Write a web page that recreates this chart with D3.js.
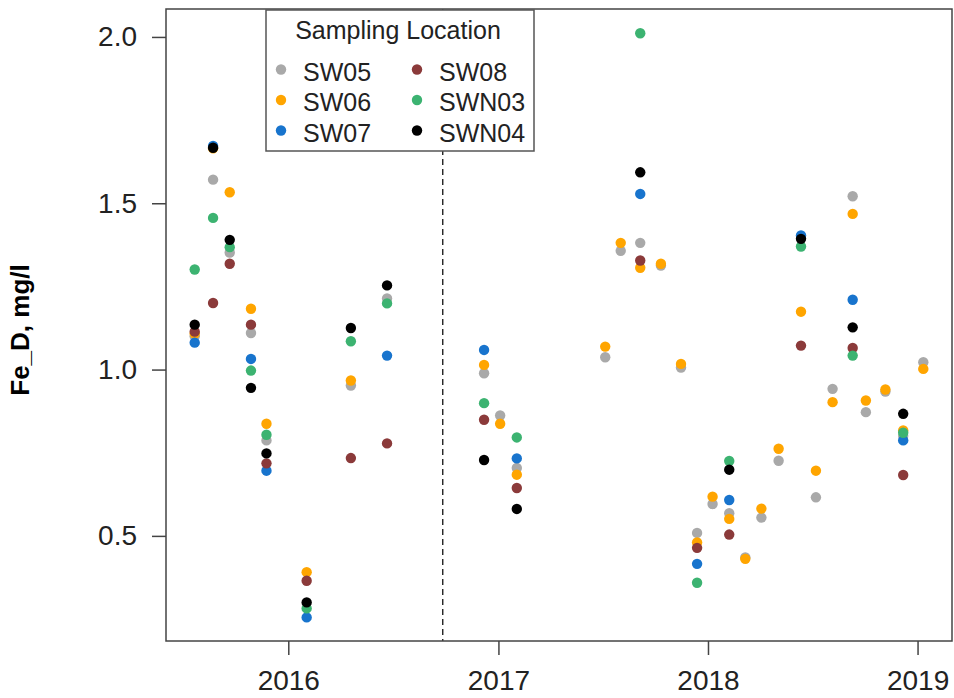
<!DOCTYPE html>
<meta charset="utf-8">
<html>
<head>
    <script src="https://d3js.org/d3.v7.min.js"></script>
</head>
<style>
    body { margin: 0; background: white; }
    text { font-family: "Liberation Sans", Arial, sans-serif; fill: #222; }
</style>
<body>
<div id="chartsdiv"></div>
<script>

// sampling dates (one column of points per date)
var sampleDates = ["2015-07-22", "2015-08-23", "2015-09-21", "2015-10-28", "2015-11-24",
    "2016-02-02", "2016-04-19", "2016-06-21", "2016-12-07", "2017-01-04",
    "2017-02-02", "2017-07-06", "2017-08-02", "2017-09-05", "2017-10-11",
    "2017-11-15", "2017-12-13", "2018-01-09", "2018-02-07", "2018-03-07",
    "2018-04-04", "2018-05-04", "2018-06-12", "2018-07-08", "2018-08-06",
    "2018-09-10", "2018-10-03", "2018-11-06", "2018-12-07", "2019-01-11"];

// Fe_D (mg/l) per site, null = no sample
var sw05 = [1.10, 1.571, 1.352, 1.110, 0.787, null, 0.952, 1.214, 0.989, 0.862,
    0.704, 1.037, 1.357, 1.381, 1.313, 1.006, 0.509, 0.596, 0.568, 0.435,
    0.555, 0.726, null, 0.616, 0.942, 1.521, 0.872, 0.934, 0.80, 1.022];
var sw06 = [1.108, 1.665, 1.533, 1.183, 0.837, 0.391, 0.967, null, 1.014, 0.837,
    0.684, 1.069, 1.381, 1.306, 1.318, 1.017, 0.48, 0.618, 0.551, 0.431,
    0.582, 0.762, 1.174, 0.696, 0.902, 1.468, 0.907, 0.94, 0.817, 1.002];
var sw07 = [1.081, 1.672, null, 1.032, 0.696, 0.255, null, 1.042, 1.059, null,
    0.733, null, null, 1.528, null, null, 0.416, null, 0.608, null,
    null, null, 1.403, null, null, 1.21, null, null, 0.787, null];
var sw08 = [1.114, 1.20, 1.318, 1.135, 0.718, 0.365, 0.734, 0.778, 0.849, null,
    0.644, null, null, 1.328, null, null, 0.464, null, 0.504, null,
    null, null, 1.072, null, null, 1.065, null, null, 0.683, null];
var swn03 = [1.301, 1.456, 1.368, 0.997, 0.804, 0.282, 1.085, 1.199, 0.899, null,
    0.796, null, null, 2.011, null, null, 0.359, null, 0.725, null,
    null, null, 1.37, null, null, 1.042, null, null, 0.81, null];
var swn04 = [1.135, 1.667, 1.39, 0.945, 0.748, 0.30, 1.125, 1.253, 0.728, null,
    0.581, null, null, 1.593, null, null, null, null, 0.699, null,
    null, null, 1.393, null, null, 1.127, null, null, 0.867, null];

var siteNames = ["SW05", "SW06", "SW07", "SW08", "SWN03", "SWN04"];
var siteValues = [sw05, sw06, sw07, sw08, swn03, swn04];
var siteColors = ["#A9A9A9", "#FFA500", "#1874CD", "#8B3A3A", "#3CB371", "#000000"];

var yTicks = [0.5, 1.0, 1.5, 2.0];
var yearTicks = ["2016-01-01", "2017-01-01", "2018-01-01", "2019-01-01"];
var splitDate = "2016-09-26";   // dashed reference line

// layout
var width = 954, height = 698;
var plot = {left: 166, right: 952, top: 9, bottom: 641};

var parse = d3.utcParse("%Y-%m-%d");

var svg = d3.select("#chartsdiv")
    .append("svg")
        .attr("width", width)
        .attr("height", height);

var scaleX = d3.scaleUtc()
    .domain([parse("2015-06-02"), parse("2019-03-02")])
    .range([plot.left, plot.right]);

var scaleY = d3.scaleLinear()
    .domain([0.184, 2.084])
    .range([plot.bottom, plot.top]);

// flatten into point records
var points = [];
siteNames.forEach(function(name, i) {
    siteValues[i].forEach(function(v, j) {
        if (v !== null) points.push({site: name, color: siteColors[i], date: parse(sampleDates[j]), value: v});
    });
});

// dashed vertical line
svg.append("line")
    .attr("x1", scaleX(parse(splitDate)))
    .attr("x2", scaleX(parse(splitDate)))
    .attr("y1", plot.top)
    .attr("y2", plot.bottom)
    .style("stroke", "#222")
    .style("stroke-width", 1.4)
    .style("stroke-dasharray", "6,4");

// points
svg.selectAll("circle.pt")
    .data(points)
    .enter()
    .append("circle")
    .attr("class", "pt")
    .attr("cx", function(d) { return scaleX(d.date); })
    .attr("cy", function(d) { return scaleY(d.value); })
    .attr("r", 5.2)
    .style("fill", function(d) { return d.color; });

// axes
var axisX = svg.append("g")
    .attr("transform", "translate(0," + plot.bottom + ")")
    .call(d3.axisBottom(scaleX)
        .tickValues(yearTicks.map(parse))
        .tickFormat(d3.utcFormat("%Y"))
        .tickSize(14)
        .tickPadding(15));
axisX.select(".domain").remove();
axisX.selectAll("line").style("stroke", "#444").style("stroke-width", 1.5);
axisX.selectAll("text").style("font-size", "28px").style("fill", "#222")
    .style("font-family", "Liberation Sans, Arial, sans-serif");

var axisY = svg.append("g")
    .attr("transform", "translate(" + plot.left + ",0)")
    .call(d3.axisLeft(scaleY)
        .tickValues(yTicks)
        .tickFormat(d3.format(".1f"))
        .tickSize(14)
        .tickPadding(15));
axisY.select(".domain").remove();
axisY.selectAll("line").style("stroke", "#444").style("stroke-width", 1.5);
axisY.selectAll("text").style("font-size", "28px").style("fill", "#222")
    .style("font-family", "Liberation Sans, Arial, sans-serif");

// plot frame
svg.append("rect")
    .attr("x", plot.left)
    .attr("y", plot.top)
    .attr("width", plot.right - plot.left)
    .attr("height", plot.bottom - plot.top)
    .style("fill", "none")
    .style("stroke", "#444")
    .style("stroke-width", 1.5);

// y axis title
svg.append("text")
    .attr("transform", "translate(29," + ((plot.top + plot.bottom) / 2 + 5) + ") rotate(-90)")
    .attr("text-anchor", "middle")
    .style("font-size", "26px")
    .style("font-weight", "bold")
    .style("fill", "#000")
    .text("Fe_D, mg/l");

// legend
var legend = svg.append("g");
legend.append("rect")
    .attr("x", 266)
    .attr("y", 10)
    .attr("width", 268)
    .attr("height", 141)
    .style("fill", "white")
    .style("stroke", "#555")
    .style("stroke-width", 1.5);

legend.append("text")
    .attr("x", 398)
    .attr("y", 39)
    .attr("text-anchor", "middle")
    .style("font-size", "25px")
    .text("Sampling Location");

var legendItems = legend.selectAll("g.item")
    .data(siteNames)
    .enter()
    .append("g")
    .attr("class", "item")
    .attr("transform", function(d, i) {
        return "translate(" + (i < 3 ? 281 : 417) + "," + (69.5 + (i % 3) * 30.5) + ")";
    });

legendItems.append("circle")
    .attr("r", 5.2)
    .style("fill", function(d, i) { return siteColors[i]; });

legendItems.append("text")
    .attr("x", 22)
    .attr("y", 11)
    .style("font-size", "25px")
    .text(function(d) { return d; });

</script>
</body>
</html>
